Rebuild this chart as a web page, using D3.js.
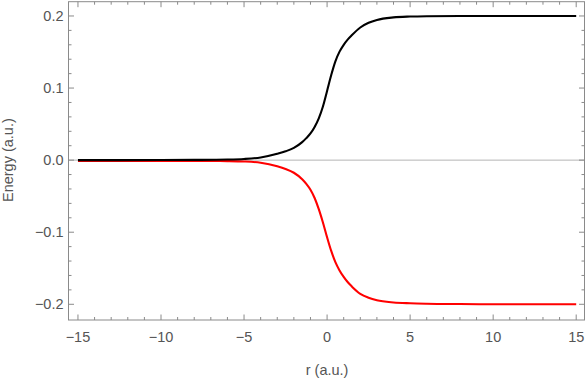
<!DOCTYPE html>
<html>
<head>
<meta charset="utf-8">
<script src="https://cdn.jsdelivr.net/npm/d3@7"></script>
<style>
  body { margin: 0; background: #fff; }
  text { font-family: "Liberation Sans", Arial, sans-serif; fill: #555; }
</style>
</head>
<body>
<div id="viz"></div>
<script>
// values
const r_vals = [-15, -10, -8, -6, -5, -4, -3, -2.5, -2, -1.5, -1.25, -1, -0.75, -0.5, -0.25, 0, 0.25, 0.5, 0.75, 1, 1.25, 1.5, 2, 2.5, 3, 4, 5, 6, 8, 10, 15];
const upper  = [0.0000, 0.0001, 0.0003, 0.0008, 0.0016, 0.0037, 0.0088, 0.0122, 0.0170, 0.0250, 0.0305, 0.0370, 0.0460, 0.0580, 0.0745, 0.0960, 0.1180, 0.1370, 0.1505, 0.1600, 0.1675, 0.1735, 0.1840, 0.1905, 0.1945, 0.1980, 0.1992, 0.1997, 0.2000, 0.2000, 0.2000];
const lower  = [-0.0010, -0.0010, -0.0011, -0.0014, -0.0019, -0.0036, -0.0085, -0.0122, -0.0175, -0.0265, -0.0330, -0.0410, -0.0525, -0.0680, -0.0865, -0.1070, -0.1260, -0.1415, -0.1530, -0.1620, -0.1695, -0.1755, -0.1855, -0.1910, -0.1945, -0.1975, -0.1986, -0.1992, -0.1997, -0.2000, -0.2000];
const x_ticks = [-15, -10, -5, 0, 5, 10, 15];
const y_ticks = [-0.2, -0.1, 0.0, 0.1, 0.2];
const x_label = "r (a.u.)";
const y_label = "Energy (a.u.)";

const width = 588, height = 379;
const plot = {left: 68.5, right: 584.5, top: 1.7, bottom: 320};

const svg = d3.select("#viz").append("svg")
  .attr("width", width)
  .attr("height", height);

const x = d3.scaleLinear().domain([-15.57, 15.5]).range([plot.left, plot.right]);
const y = d3.scaleLinear().domain([-0.2218, 0.2198]).range([plot.bottom, plot.top]);

const frame_color = "#8a8a8a";

// zero axis line
svg.append("line")
  .attr("x1", plot.left).attr("x2", plot.right)
  .attr("y1", y(0)).attr("y2", y(0))
  .style("stroke", "#b4b4b4")
  .style("stroke-width", 1);

// curves
const line = d3.line()
  .x((d, i) => x(r_vals[i]))
  .y(d => y(d))
  .curve(d3.curveMonotoneX);

svg.append("path")
  .attr("d", line(lower))
  .style("stroke", "#ff0000")
  .style("stroke-width", 2.1)
  .style("fill", "none");

svg.append("path")
  .attr("d", line(upper))
  .style("stroke", "#000")
  .style("stroke-width", 2.1)
  .style("fill", "none");

// frame
svg.append("rect")
  .attr("x", plot.left).attr("y", plot.top)
  .attr("width", plot.right - plot.left)
  .attr("height", plot.bottom - plot.top)
  .style("fill", "none")
  .style("stroke", frame_color)
  .style("stroke-width", 1);

// ticks pointing inward on all four sides
const x_minor = d3.range(-15, 16, 1).filter(v => !x_ticks.includes(v));
const y_minor = d3.range(-0.2, 0.2001, 0.02).filter(v => !y_ticks.some(t => Math.abs(t - v) < 1e-6));

const ticks = svg.append("g").style("stroke", frame_color).style("stroke-width", 1);

function xTick(v, len) {
  ticks.append("line").attr("x1", x(v)).attr("x2", x(v)).attr("y1", plot.bottom).attr("y2", plot.bottom - len);
  ticks.append("line").attr("x1", x(v)).attr("x2", x(v)).attr("y1", plot.top).attr("y2", plot.top + len);
}
function yTick(v, len) {
  ticks.append("line").attr("y1", y(v)).attr("y2", y(v)).attr("x1", plot.left).attr("x2", plot.left + len);
  ticks.append("line").attr("y1", y(v)).attr("y2", y(v)).attr("x1", plot.right).attr("x2", plot.right - len);
}
x_ticks.forEach(v => xTick(v, 5.5));
x_minor.forEach(v => xTick(v, 3));
y_ticks.forEach(v => yTick(v, 5.5));
y_minor.forEach(v => yTick(v, 3));

// tick labels
const fmtY = v => (v < 0 ? "\u2212" : "") + Math.abs(v).toFixed(1);
const fmtX = v => (v < 0 ? "\u2212" : "") + Math.abs(v);

svg.append("g").selectAll("text")
  .data(x_ticks).join("text")
  .attr("x", d => x(d))
  .attr("y", plot.bottom + 22)
  .attr("text-anchor", "middle")
  .style("font-size", "14.5px")
  .text(fmtX);

svg.append("g").selectAll("text")
  .data(y_ticks).join("text")
  .attr("x", plot.left - 5)
  .attr("y", d => y(d) + 5)
  .attr("text-anchor", "end")
  .style("font-size", "14.5px")
  .text(fmtY);

// axis titles
svg.append("text")
  .attr("x", x(0))
  .attr("y", 375)
  .attr("text-anchor", "middle")
  .style("font-size", "14.5px")
  .text(x_label);

svg.append("text")
  .attr("transform", `translate(13, ${y(0)}) rotate(-90)`)
  .attr("text-anchor", "middle")
  .style("font-size", "14.5px")
  .text(y_label);
</script>
</body>
</html>
